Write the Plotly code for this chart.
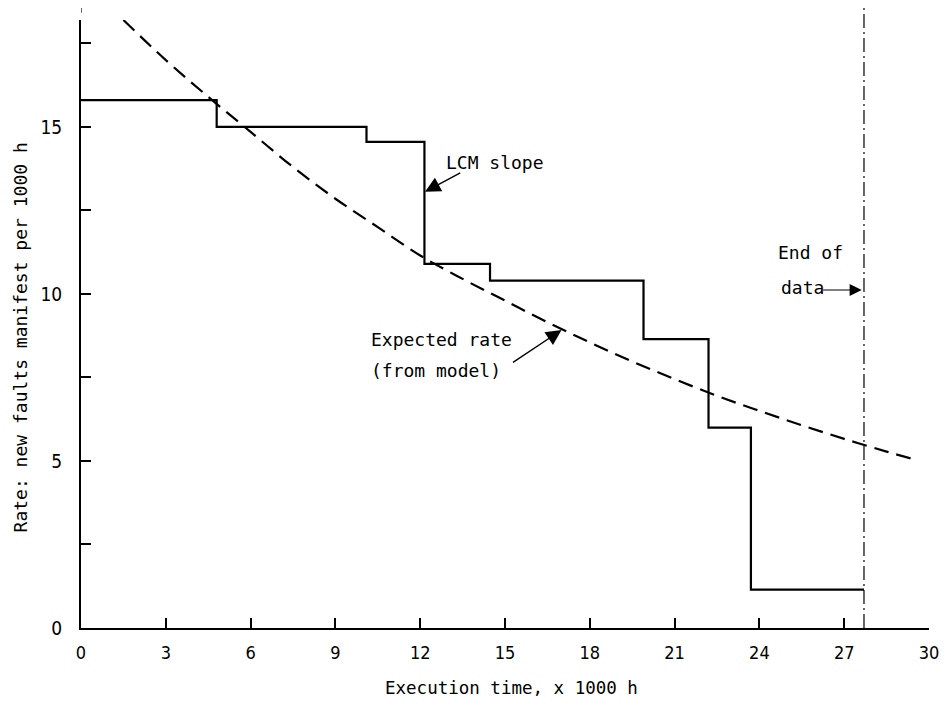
import plotly.graph_objects as go

# Step data: observed rate (LCM slope)
step_x = [0, 4.8, 10.1, 12.15, 14.47, 19.9, 22.2, 23.7, 27.7]
step_y = [15.8, 15.0, 14.55, 10.9, 10.4, 8.65, 6.0, 1.15, 1.15]

# Expected rate (from model)
model_x = [1.5, 3, 4.5, 6, 7.5, 9, 10.5, 12, 13.5, 15, 16.5, 18, 19.5, 21, 22.5, 24, 25.5, 27, 28.5, 29.5]
model_y = [18.2, 17.0, 15.9, 14.85, 13.8, 12.85, 12.0, 11.15, 10.45, 9.8, 9.15, 8.55, 7.98, 7.45, 6.95, 6.5, 6.07, 5.66, 5.28, 5.04]

end_of_data = 27.7

x_ticks = [0, 3, 6, 9, 12, 15, 18, 21, 24, 27, 30]
y_ticks = [0, 2.5, 5, 7.5, 10, 12.5, 15, 17.5]
y_ticktext = ["0", "", "5", "", "10", "", "15", ""]

TXT = "DejaVu Sans Mono, Liberation Mono, monospace"
TICK = "DejaVu Sans Condensed, DejaVu Sans, sans-serif"

fig = go.Figure()
fig.add_trace(go.Scatter(x=step_x, y=step_y, mode="lines", line=dict(color="black", width=2.2, shape="hv"),
                         showlegend=False, hoverinfo="skip"))
fig.add_trace(go.Scatter(x=model_x, y=model_y, mode="lines",
                         line=dict(color="black", width=2.2, dash="15px,8px", shape="spline"),
                         showlegend=False, hoverinfo="skip"))

fig.add_shape(type="line", xref="x", yref="paper", x0=end_of_data, x1=end_of_data, y0=0, y1=1.02,
              line=dict(color="black", width=1.2, dash="14px,4px,2px,4px"))
# short dash above the top of the y axis
fig.add_shape(type="line", xref="x", yref="paper", x0=0, x1=0, y0=1.012, y1=1.02,
              line=dict(color="black", width=1.2))

ann_font = dict(family=TXT, size=18, color="black")
texts = [
    ("LCM slope", 12.84, 13.94),
    ("Expected rate", 10.19, 8.64),
    ("(from model)", 10.19, 7.72),
    ("End of", 24.6, 11.25),
    ("data", 24.7, 10.2),
]
for t, x, y in texts:
    fig.add_annotation(x=x, y=y, text=t, showarrow=False, xanchor="left", yanchor="middle", font=ann_font)

arrows = [
    (12.17, 13.06, 13.47, 13.65, 1.4),
    (17.0, 8.92, 15.23, 7.92, 1.4),
    (27.62, 10.12, 26.2, 10.12, 1.1),
]
for x, y, ax, ay, w in arrows:
    fig.add_annotation(x=x, y=y, ax=ax, ay=ay, axref="x", ayref="y", text="", showarrow=True,
                       arrowhead=2, arrowsize=2.2, arrowwidth=w, arrowcolor="black", standoff=0)

# axis titles as annotations for exact placement
fig.add_annotation(xref="paper", yref="paper", x=0.508, y=-0.0987, text="Execution time, x 1000 h",
                   showarrow=False, xanchor="center", yanchor="middle", font=dict(family=TXT, size=17.5, color="black"))
fig.add_annotation(xref="paper", yref="paper", x=-0.0719, y=0.478, text="Rate: new faults manifest per 1000 h",
                   textangle=-90, showarrow=False, xanchor="center", yanchor="middle",
                   font=dict(family=TXT, size=18, color="black"))

fig.update_xaxes(range=[0, 30], tickvals=x_ticks, ticktext=[str(v) for v in x_ticks],
                 showline=True, linewidth=2, linecolor="black", ticks="inside", ticklen=10, tickwidth=1.5,
                 tickcolor="black", showgrid=False, zeroline=False, ticklabelstandoff=7,
                 tickfont=dict(family=TICK, size=18, color="black"))
fig.update_yaxes(range=[0, 18.2], tickvals=y_ticks, ticktext=y_ticktext,
                 showline=True, linewidth=2, linecolor="black", ticks="inside", ticklen=10, tickwidth=1.5,
                 tickcolor="black", showgrid=False, zeroline=False, ticklabelstandoff=13,
                 tickfont=dict(family=TICK, size=19, color="black"))

fig.update_layout(width=943, height=695, margin=dict(l=73, r=22, t=12, b=75, autoexpand=False),
                  plot_bgcolor="white", paper_bgcolor="white", font=dict(family=TXT, color="black"))

fig.write_html("out.html")
